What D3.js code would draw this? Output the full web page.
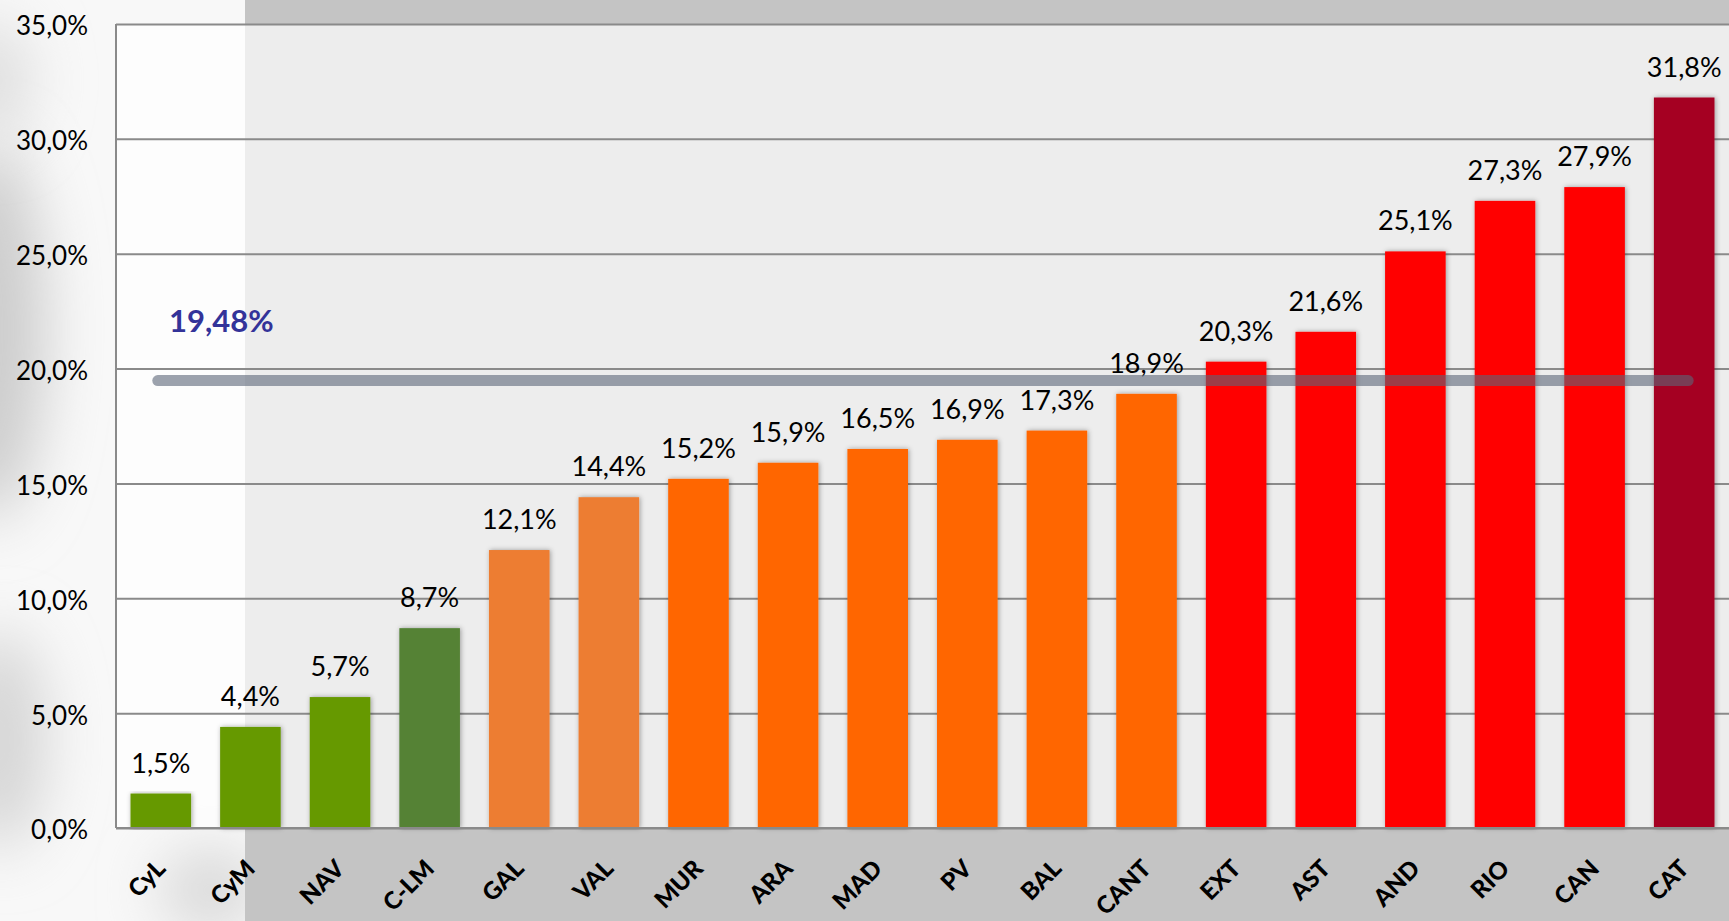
<!DOCTYPE html>
<html>
<head>
<meta charset="utf-8">
<script src="https://cdn.jsdelivr.net/npm/d3@7/dist/d3.min.js"></script>
<style>
  html, body { margin: 0; padding: 0; background: #ffffff; overflow: hidden; }
  svg { display: block; }
</style>
</head>
<body>
<svg id="chart" width="1729" height="921"></svg>
<script>
// ---- data ----
const categories = ["CyL","CyM","NAV","C-LM","GAL","VAL","MUR","ARA","MAD","PV","BAL","CANT","EXT","AST","AND","RIO","CAN","CAT"];
const values = [1.5, 4.4, 5.7, 8.7, 12.1, 14.4, 15.2, 15.9, 16.5, 16.9, 17.3, 18.9, 20.3, 21.6, 25.1, 27.3, 27.9, 31.8];
const groups = ["g1","g1","g1","g2","o1","o1","o2","o2","o2","o2","o2","o2","r1","r1","r1","r1","r1","r2"];
const average = 19.48;
const yTicks = [0, 5, 10, 15, 20, 25, 30, 35];

// ---- styles ----
const groupColor = { g1: "#669900", g2: "#548235", o1: "#ed7d31", o2: "#ff6600", r1: "#ff0000", r2: "#a50021" };
const W = 1729, H = 921;
const margin = { left: 116, right: 0, top: 24, bottom: 93 };
const FONT = "Lato, 'Open Sans', sans-serif";

const svg = d3.select("#chart");
const defs = svg.append("defs");

const blur = defs.append("filter").attr("id", "blur").attr("x", "-100%").attr("y", "-100%").attr("width", "300%").attr("height", "300%");
blur.append("feGaussianBlur").attr("stdDeviation", 30);
const shadow = defs.append("filter").attr("id", "shadow").attr("x", "-20%").attr("y", "-5%").attr("width", "140%").attr("height", "110%");
shadow.append("feDropShadow").attr("dx", 1).attr("dy", 0).attr("stdDeviation", 2.5).attr("flood-color", "#000").attr("flood-opacity", 0.35);

// background
svg.append("rect").attr("width", W).attr("height", H).attr("fill", "#c4c4c4");
const leftClip = defs.append("clipPath").attr("id", "leftClip");
leftClip.append("rect").attr("x", 0).attr("y", 0).attr("width", 245).attr("height", H);
const leftBg = svg.append("g").attr("clip-path", "url(#leftClip)");
leftBg.append("rect").attr("width", 245).attr("height", H).attr("fill", "#f8f8f8");
leftBg.append("ellipse").attr("cx", -10).attr("cy", 330).attr("rx", 55).attr("ry", 190).attr("fill", "#cccccc").attr("filter", "url(#blur)");
leftBg.append("ellipse").attr("cx", -10).attr("cy", 80).attr("rx", 40).attr("ry", 60).attr("fill", "#dddddd").attr("filter", "url(#blur)");
leftBg.append("ellipse").attr("cx", 0).attr("cy", 740).attr("rx", 45).attr("ry", 110).attr("fill", "#d4d4d4").attr("filter", "url(#blur)");
leftBg.append("ellipse").attr("cx", 210).attr("cy", 890).attr("rx", 50).attr("ry", 40).attr("fill", "#d6d6d6").attr("filter", "url(#blur)");

// scales
const x = d3.scaleBand().domain(categories).range([margin.left, W - margin.right]).paddingInner(0.324).paddingOuter(0.162);
const y = d3.scaleLinear().domain([0, 35]).range([H - margin.bottom, margin.top]);

// plot area
svg.append("rect")
  .attr("x", margin.left).attr("y", margin.top)
  .attr("width", W - margin.left - margin.right).attr("height", y(0) - margin.top)
  .attr("fill", "#ffffff").attr("fill-opacity", 0.7);

// gridlines
const grid = svg.append("g").attr("transform", `translate(${margin.left},0)`)
  .call(d3.axisLeft(y).tickValues(yTicks).tickSize(-(W - margin.left - margin.right)).tickFormat(""));
grid.select(".domain").remove();
grid.selectAll(".tick line").attr("stroke", "#8a8a8a").attr("stroke-width", 2);

// left axis line
svg.append("line").attr("x1", margin.left).attr("x2", margin.left).attr("y1", margin.top).attr("y2", y(0))
  .attr("stroke", "#8a8a8a").attr("stroke-width", 2);

// y tick labels
const locale = d3.formatLocale({ decimal: ",", thousands: ".", grouping: [3], currency: ["", "€"] });
const fmt1 = locale.format(".1f");
const fmt2 = locale.format(".2f");
const yAxis = svg.append("g").attr("transform", `translate(${margin.left},0)`)
  .call(d3.axisLeft(y).tickValues(yTicks).tickSize(0).tickPadding(28).tickFormat(d => fmt1(d) + "%"));
yAxis.select(".domain").remove();
yAxis.selectAll("text").attr("font-family", FONT).attr("font-size", 26).attr("fill", "#000").attr("dy", "0.42em");

// bars
svg.append("g").selectAll("rect").data(values).join("rect")
  .attr("x", (d, i) => x(categories[i]))
  .attr("y", d => y(d))
  .attr("width", x.bandwidth())
  .attr("height", d => y(0) - y(d))
  .attr("fill", (d, i) => groupColor[groups[i]])
  .attr("filter", "url(#shadow)");

// bottom axis line
svg.append("line").attr("x1", margin.left).attr("x2", W).attr("y1", y(0)).attr("y2", y(0))
  .attr("stroke", "#8a8a8a").attr("stroke-width", 2);

// value labels
svg.append("g").selectAll("text").data(values).join("text")
  .attr("x", (d, i) => x(categories[i]) + x.bandwidth() / 2)
  .attr("y", d => y(d) - 21)
  .attr("text-anchor", "middle")
  .attr("font-family", FONT).attr("font-size", 27).attr("fill", "#000")
  .text(d => fmt1(d) + "%");

// average line
svg.append("line")
  .attr("x1", x(categories[0]) + x.bandwidth() / 2 - 3)
  .attr("x2", x(categories[categories.length - 1]) + x.bandwidth() / 2 + 4)
  .attr("y1", y(average)).attr("y2", y(average))
  .attr("stroke", "#5c6578").attr("stroke-opacity", 0.6).attr("stroke-width", 11).attr("stroke-linecap", "round");

svg.append("text")
  .attr("x", 169).attr("y", y(average) - 49)
  .attr("font-family", FONT).attr("font-weight", "bold").attr("font-size", 31).attr("fill", "#333399")
  .text(fmt2(average) + "%");

// x axis labels
const xAxis = svg.append("g").attr("transform", `translate(0,${y(0)})`)
  .call(d3.axisBottom(x).tickSize(0).tickPadding(0));
xAxis.select(".domain").remove();
xAxis.selectAll("text")
  .attr("font-family", FONT).attr("font-weight", "900").attr("font-size", 24).attr("fill", "#000")
  .attr("text-anchor", "end")
  .attr("dy", 0).attr("y", 0)
  .attr("transform", "translate(6,42) rotate(-45)");
</script>
</body>
</html>
